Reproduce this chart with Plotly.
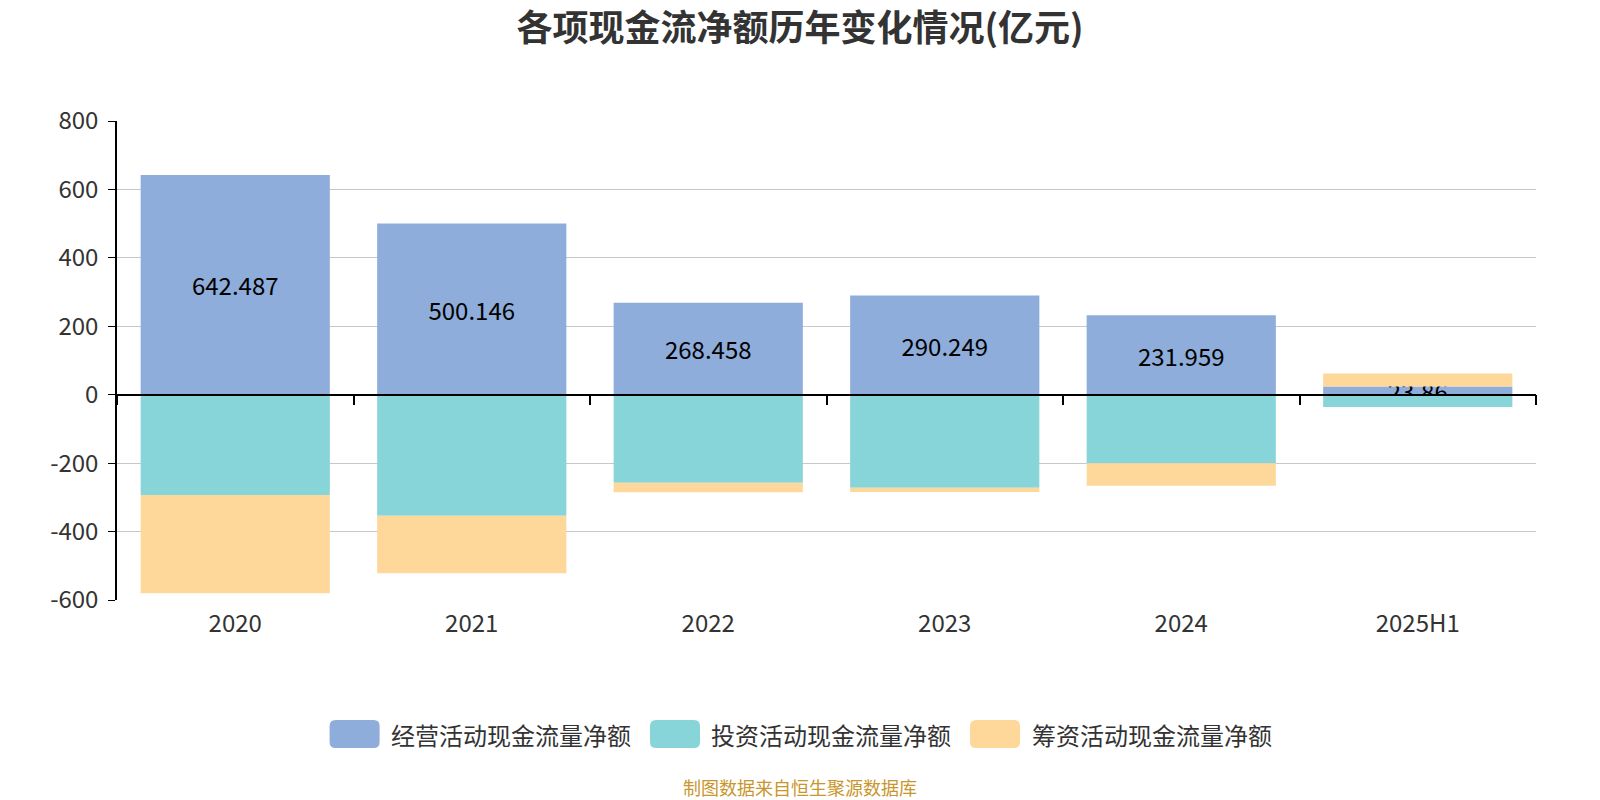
import plotly.graph_objects as go

categories = ["2020", "2021", "2022", "2023", "2024", "2025H1"]
operating = [642.487, 500.146, 268.458, 290.249, 231.959, 23.86]
investing = [-293, -354, -257, -272, -200, -36]
financing = [-287, -168, -28, -12, -66, 38]
series_names = ["经营活动现金流量净额", "投资活动现金流量净额", "筹资活动现金流量净额"]
colors = ["#8EADDA", "#87D5D8", "#FED89B"]
y_ticks = [-600, -400, -200, 0, 200, 400, 600, 800]
y_tick_text = ["-600", "-400", "-200", "0", "200", "400", "600", "800"]

FONT = "Noto Sans CJK SC, sans-serif"

fig = go.Figure()
fig.add_trace(go.Bar(
    x=categories, y=operating, name=series_names[0], marker_color=colors[0],
    marker_line_width=0,
    text=[f"{v:g}" for v in operating], textposition="inside", insidetextanchor="middle",
    textangle=0, constraintext="none", cliponaxis=False,
    textfont=dict(size=24, color="#000000", family=FONT),
))
fig.add_trace(go.Bar(x=categories, y=investing, name=series_names[1],
                     marker_color=colors[1], marker_line_width=0))
fig.add_trace(go.Bar(x=categories, y=financing, name=series_names[2],
                     marker_color=colors[2], marker_line_width=0))

ymin, ymax = y_ticks[0], y_ticks[-1]
n = len(categories)

L, R, T, B = 117, 64, 121, 200
PW, PH = 1600 - L - R, 800 - T - B


def px_x(x):
    return (x - L) / PW


def px_y(y):
    return (800 - B - y) / PH


fig.update_layout(
    width=1600, height=800,
    barmode="relative", bargap=0.2,
    plot_bgcolor="white", paper_bgcolor="white",
    margin=dict(l=L, r=R, t=T, b=B),
    showlegend=False,
    uniformtext=dict(minsize=24, mode="show"),
    title=dict(text="<b>各项现金流净额历年变化情况(亿元)</b>", x=0.5, xanchor="center",
               y=1 - 28 / 800, yanchor="middle",
               font=dict(size=36, color="#333333", family=FONT)),
    font=dict(family=FONT, color="#333333"),
    xaxis=dict(type="category", range=[-0.5, n - 0.5], showgrid=False,
               showline=False, ticks="", tickfont=dict(size=24, color="#333333"),
               ticklabelstandoff=7),
    xaxis2=dict(overlaying="x", anchor="free",
                position=(0 - ymin) / (ymax - ymin), side="bottom",
                range=[-0.5, n - 0.5], tickvals=[i - 0.5 for i in range(n + 1)],
                showticklabels=False, ticks="outside", ticklen=10, tickcolor="#000000",
                tickwidth=1.5, showline=True, linecolor="#000000", linewidth=1.5,
                showgrid=False, zeroline=False),
    yaxis=dict(range=[ymin, ymax], tickvals=y_ticks, ticktext=y_tick_text,
               showgrid=True, gridcolor="#C8C8C8",
               gridwidth=1.2, zeroline=False, showline=True, linecolor="#000000",
               linewidth=1.5, ticks="outside", ticklen=7, tickcolor="#000000",
               ticklabelstandoff=5,
               tickfont=dict(size=24, color="#333333")),
)
fig.add_trace(go.Scatter(x=[0], y=[None], xaxis="x2", showlegend=False, hoverinfo="skip"))


def rounded_rect(x0, y0, x1, y1, r):
    def P(x, y):
        return f"{px_x(x)},{px_y(y)}"
    return (f"M {P(x0 + r, y0)} L {P(x1 - r, y0)} Q {P(x1, y0)} {P(x1, y0 + r)} "
            f"L {P(x1, y1 - r)} Q {P(x1, y1)} {P(x1 - r, y1)} L {P(x0 + r, y1)} "
            f"Q {P(x0, y1)} {P(x0, y1 - r)} L {P(x0, y0 + r)} Q {P(x0, y0)} {P(x0 + r, y0)} Z")


legend_items = [(329.6, 389), (650, 709), (970, 1030)]
for (sx, tx), name, c in zip(legend_items, series_names, colors):
    fig.add_shape(type="path", xref="paper", yref="paper",
                  path=rounded_rect(sx, 720, sx + 50, 748, 6),
                  fillcolor=c, line=dict(width=0), layer="above")
    fig.add_annotation(xref="paper", yref="paper", x=px_x(tx), y=px_y(734),
                       xanchor="left", yanchor="middle", showarrow=False, text=name,
                       font=dict(size=24, color="#333333", family=FONT))

fig.add_annotation(xref="paper", yref="paper", x=px_x(800), y=px_y(787),
                   xanchor="center", yanchor="middle", showarrow=False,
                   text="制图数据来自恒生聚源数据库",
                   font=dict(size=18, color="#C8962C", family=FONT))

fig.write_html("out.html")
